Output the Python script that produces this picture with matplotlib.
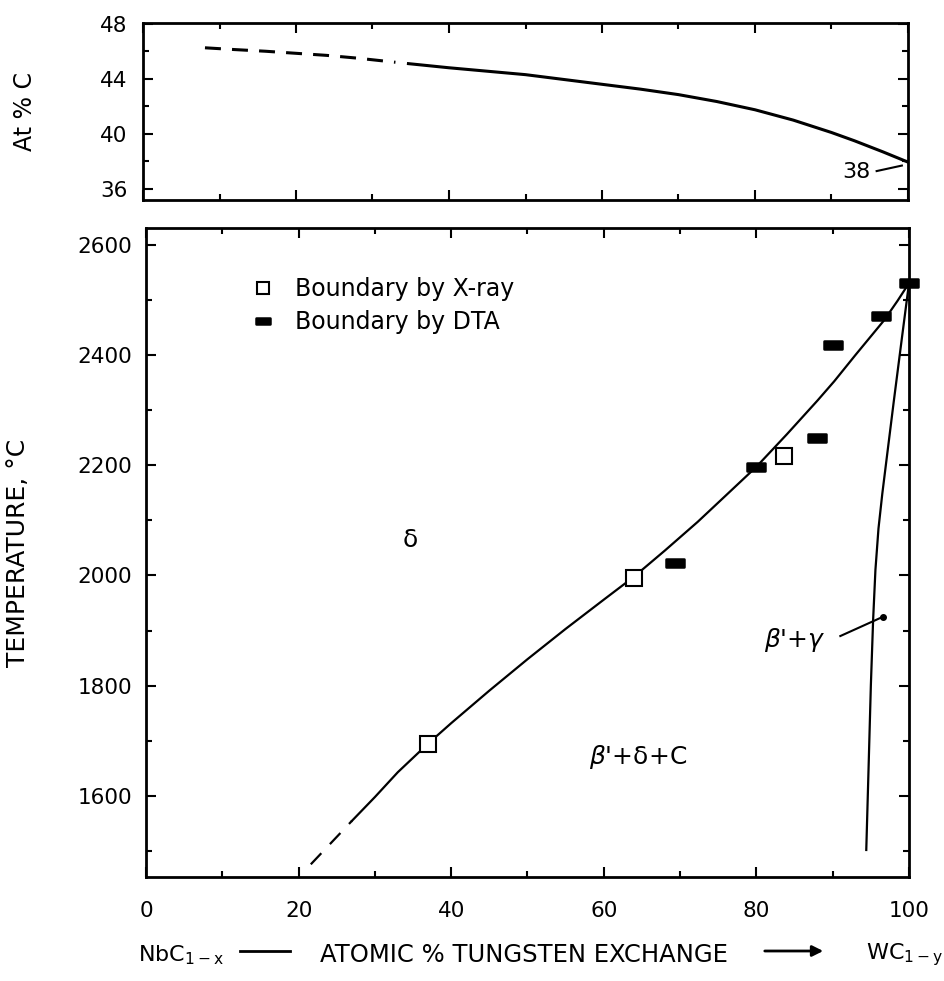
import matplotlib
matplotlib.use('Agg')
import matplotlib.pyplot as plt
from matplotlib.path import Path
from matplotlib.markers import MarkerStyle
from matplotlib.ticker import MultipleLocator, FixedLocator
from matplotlib.lines import Line2D
from matplotlib.patches import FancyArrowPatch

plt.rcParams['font.family'] = ['DejaVu Sans']
plt.rcParams['mathtext.default'] = 'regular'
plt.rcParams['lines.scale_dashes'] = False

# ---------------- data ----------------
# top panel: at % C of the delta boundary
carbon_dash_x = [8.1, 12, 16, 20, 24, 28, 33.0]
carbon_dash_y = [46.25, 46.12, 46.0, 45.85, 45.7, 45.5, 45.2]
carbon_x = [34.7, 40, 45, 50, 55, 60, 65, 70, 75, 80, 85, 90, 93, 96.7, 100]
carbon_y = [45.1, 44.8, 44.55, 44.3, 43.95, 43.6, 43.25, 42.85, 42.35, 41.75,
            41.0, 40.1, 39.5, 38.7, 37.95]

# bottom panel: delta / beta'+delta+C boundary
bound_dash_x = [21.6, 27.0]
bound_dash_y = [1476, 1555]
bound_x = [27.0, 30, 33, 36.9, 40, 45, 50, 55, 60, 63.9, 68, 72.3, 76, 80, 84,
           88, 90.2, 93, 96.7, 98.5, 100]
bound_y = [1555, 1598, 1643, 1694, 1732, 1791, 1848, 1903, 1956, 1997, 2045,
           2097, 2145, 2197, 2256, 2317, 2352, 2400, 2462, 2498, 2530]

# beta'+gamma boundary
gamma_x = [94.4, 94.7, 95.0, 95.3, 95.6, 96.0, 96.5, 97.1, 98.0, 99.0, 100]
gamma_y = [1502, 1650, 1800, 1920, 2010, 2085, 2148, 2215, 2315, 2423, 2530]

# measured points
xray_x = [36.9, 63.9, 83.6]
xray_y = [1694, 1995, 2217]
dta_x = [69.3, 80.0, 87.9, 90.0, 96.3, 100.0]
dta_y = [2022, 2197, 2250, 2418, 2470, 2530]

legend_labels = ['Boundary by X-ray', 'Boundary by DTA']
x_ticks = [0, 20, 40, 60, 80, 100]
t_ticks = [1600, 1800, 2000, 2200, 2400, 2600]
c_ticks = [36, 40, 44, 48]

# text annotations (label, x, y)
phase_labels = [('δ', 34.6, 2065), (r"$\mathit{\beta}$'+δ+C", 64.5, 1671),
                (r"$\mathit{\beta}$'+$\mathit{\gamma}$", 85.1, 1883)]
gamma_leader = ([91.0, 96.6], [1890, 1925])
c38_label = ('38', 93.3, 37.2)
c38_leader = ([95.9, 99.2], [37.3, 37.7])

# ---------------- figure ----------------
fig = plt.figure(figsize=(9.45, 9.81), dpi=100)
W, H = 945.0, 981.0
ax1 = fig.add_axes([143 / W, 1 - 200 / H, 765 / W, 177 / H])
ax2 = fig.add_axes([146 / W, 1 - 877 / H, 763 / W, 649 / H])

dta_path = Path([(-1, -0.5), (1, -0.5), (1, 0.5), (-1, 0.5), (-1, -0.5)],
                [Path.MOVETO, Path.LINETO, Path.LINETO, Path.LINETO, Path.CLOSEPOLY])
dta_marker = MarkerStyle(dta_path, joinstyle='round')

for ax in (ax1, ax2):
    ax.set_xlim(0, 100)
    ax.xaxis.set_major_locator(FixedLocator(x_ticks))
    ax.xaxis.set_minor_locator(MultipleLocator(10))
    ax.tick_params(which='both', direction='in', top=True, right=True,
                   width=1.5, colors='black')
    ax.tick_params(which='major', length=7)
    ax.tick_params(which='minor', length=4)
    for s in ax.spines.values():
        s.set_linewidth(2.0)

# top panel
ax1.plot(carbon_dash_x, carbon_dash_y, color='black', lw=2.2, dashes=(11.5, 8))
ax1.plot(carbon_x, carbon_y, color='black', lw=2.2)
ax1.set_ylim(35.2, 48.05)
ax1.yaxis.set_major_locator(FixedLocator(c_ticks))
ax1.yaxis.set_minor_locator(MultipleLocator(2))
ax1.tick_params(axis='x', labelbottom=False)
ax1.tick_params(axis='y', labelsize=15.5, pad=11)
ax1.set_ylabel('At % C', fontsize=17)
ax1.yaxis.set_label_coords((37 - 143) / 765, 0.5)
ax1.text(c38_label[1], c38_label[2], c38_label[0], fontsize=16,
         ha='center', va='center')
ax1.plot(*c38_leader, color='black', lw=1.5)

# bottom panel
ax2.plot(bound_dash_x, bound_dash_y, color='black', lw=1.6, dashes=(11, 9))
ax2.plot(bound_x, bound_y, color='black', lw=1.6)
ax2.plot(gamma_x, gamma_y, color='black', lw=1.6)
ax2.plot(xray_x, xray_y, ls='none', marker='s', ms=11, mfc='white',
         mec='black', mew=1.5, zorder=5)
ax2.plot(dta_x, dta_y, ls='none', marker=dta_marker, ms=12.5, mfc='black',
         mec='black', mew=1.8, zorder=6, clip_on=False)
ax2.set_ylim(1453, 2630)
ax2.yaxis.set_major_locator(FixedLocator(t_ticks))
ax2.yaxis.set_minor_locator(MultipleLocator(100))
ax2.tick_params(axis='x', labelsize=15.5, pad=17)
ax2.tick_params(axis='y', labelsize=15.5, pad=10)
ax2.set_ylabel('TEMPERATURE, °C', fontsize=18)
ax2.yaxis.set_label_coords((30 - 146) / 763, 0.5)

for lab, x, y in phase_labels:
    ax2.text(x, y, lab, fontsize=18, ha='center', va='center')
ax2.plot(*gamma_leader, color='black', lw=1.5)
ax2.plot(gamma_leader[0][-1], gamma_leader[1][-1], 'o', color='black', ms=4)

h1 = Line2D([], [], ls='none', marker='s', ms=8.5, mfc='white', mec='black', mew=1.5)
h2 = Line2D([], [], ls='none', marker=dta_marker, ms=10, mfc='black', mec='black', mew=1.8)
ax2.legend([h1, h2], legend_labels, loc='upper left',
           bbox_to_anchor=((251 - 146) / 763, 1 - (277 - 228) / 649),
           frameon=False, fontsize=17, handlelength=1.0, handletextpad=0.86,
           labelspacing=0.4, borderpad=0, borderaxespad=0)

# composite x label
yl = 1 - 955 / H
fig.text(138 / W, yl, r'NbC$_{1-x}$', ha='left', va='center', fontsize=16)
fig.add_artist(Line2D([240 / W, 290 / W], [1 - 951 / H] * 2, lw=2, color='black'))
fig.text(524 / W, yl, 'ATOMIC % TUNGSTEN EXCHANGE', ha='center', va='center', fontsize=17.5)
fig.add_artist(FancyArrowPatch((762 / W, 1 - 951 / H), (826 / W, 1 - 951 / H),
                               transform=fig.transFigure, arrowstyle='-|>',
                               mutation_scale=16, lw=2, color='black'))
fig.text(866 / W, yl, r'WC$_{1-y}$', ha='left', va='center', fontsize=16)

fig.savefig('out.png', dpi=100, facecolor='white')
